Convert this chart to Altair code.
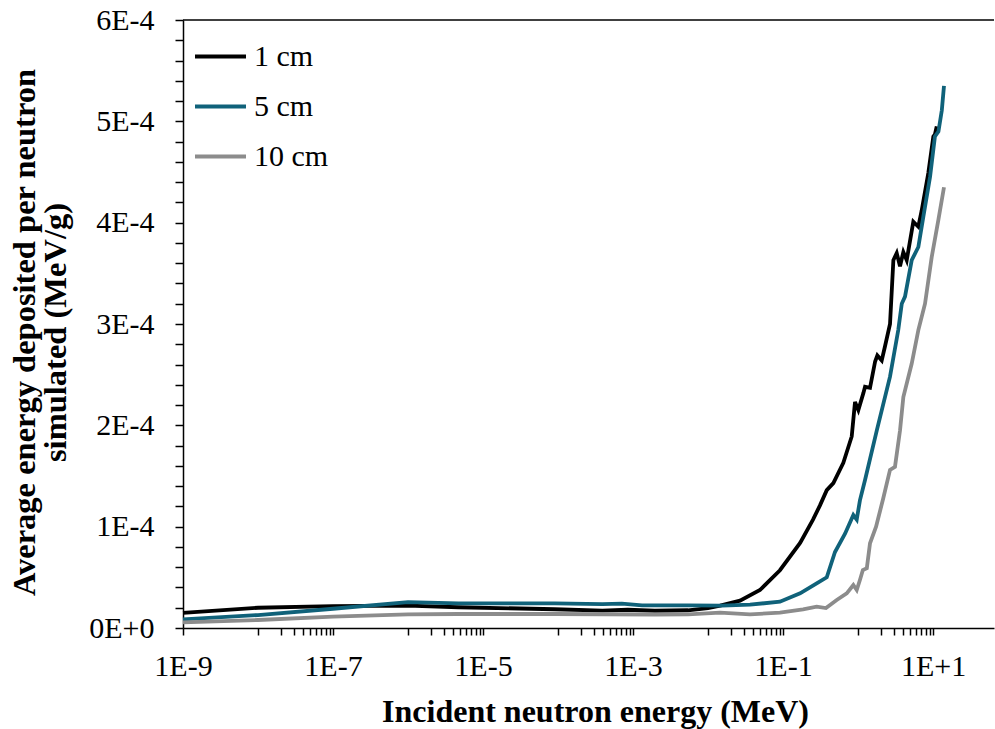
import altair as alt
import pandas as pd

# ---- data ----
series_names = ["1 cm", "5 cm", "10 cm"]
series_colors = ["#000000", "#10627a", "#8c8c8c"]

energy_1cm = [1e-9, 1e-8, 1e-7, 1e-6, 4.7e-6, 9e-5, 3.9e-4, 8.5e-4, 1.95e-3, 5.4e-3,
              1e-2, 1.45e-2, 0.0267, 0.0493, 0.091, 0.169, 0.251, 0.311, 0.383, 0.469,
              0.637, 0.824, 0.912, 1.01, 1.18, 1.24, 1.445, 1.69, 1.81, 2.07,
              2.29, 2.67, 2.96, 3.28, 3.63, 4.02, 4.46, 5.46, 6.37, 7.06,
              8.65, 10.1, 10.6, 11.2]
dose_1cm = [1.50e-5, 2.00e-5, 2.15e-5, 2.20e-5, 2.05e-5, 1.85e-5, 1.72e-5, 1.80e-5, 1.70e-5, 1.75e-5,
            1.95e-5, 2.20e-5, 2.70e-5, 3.75e-5, 5.70e-5, 8.40e-5, 1.07e-4, 1.21e-4, 1.36e-4, 1.43e-4,
            1.63e-4, 1.89e-4, 2.23e-4, 2.15e-4, 2.32e-4, 2.38e-4, 2.37e-4, 2.63e-4, 2.69e-4, 2.64e-4,
            2.78e-4, 3.00e-4, 3.63e-4, 3.70e-4, 3.57e-4, 3.71e-4, 3.63e-4, 4.01e-4, 3.96e-4, 4.12e-4,
            4.49e-4, 4.85e-4, 4.87e-4, 4.95e-4]

energy_5cm = [1e-9, 1e-8, 1e-7, 1e-6, 4.7e-6, 9e-5, 3.9e-4, 7.1e-4, 1.32e-3, 5.4e-3,
              0.0154, 0.0363, 0.091, 0.169, 0.281, 0.383, 0.493, 0.671, 0.866, 0.961,
              1.06, 1.24, 1.78, 2.67, 3.44, 3.83, 4.23, 5.2, 6.37, 7.43,
              9.12, 10.6, 11.8, 13.1, 14.0]
dose_5cm = [8.6e-6, 1.28e-5, 1.90e-5, 2.55e-5, 2.44e-5, 2.44e-5, 2.35e-5, 2.40e-5, 2.24e-5, 2.24e-5,
            2.20e-5, 2.30e-5, 2.60e-5, 3.42e-5, 4.40e-5, 5.00e-5, 7.50e-5, 9.30e-5, 1.115e-4, 1.07e-4,
            1.26e-4, 1.46e-4, 1.95e-4, 2.48e-4, 2.94e-4, 3.20e-4, 3.27e-4, 3.63e-4, 3.76e-4, 4.06e-4,
            4.45e-4, 4.85e-4, 4.90e-4, 5.11e-4, 5.35e-4]

energy_10cm = [1e-9, 1e-8, 1e-7, 1e-6, 4.7e-6, 9e-5, 1.95e-3, 5.4e-3, 0.0145, 0.0363,
               0.091, 0.185, 0.281, 0.374, 0.52, 0.707, 0.866, 0.961, 1.06, 1.16,
               1.31, 1.445, 1.74, 2.17, 2.67, 3.11, 3.63, 4.02, 5.2, 6.37,
               7.82, 9.6, 11.8, 14.0]
dose_10cm = [5.6e-6, 7.9e-6, 1.12e-5, 1.35e-5, 1.38e-5, 1.38e-5, 1.33e-5, 1.35e-5, 1.51e-5, 1.35e-5,
             1.51e-5, 1.84e-5, 2.10e-5, 1.97e-5, 2.76e-5, 3.42e-5, 4.24e-5, 3.75e-5, 4.74e-5, 5.72e-5,
             5.90e-5, 8.36e-5, 1.00e-4, 1.28e-4, 1.56e-4, 1.59e-4, 1.95e-4, 2.28e-4, 2.61e-4, 2.94e-4,
             3.20e-4, 3.66e-4, 4.03e-4, 4.35e-4]

# axis ticks and labels
x_major_ticks = [1e-9, 1e-7, 1e-5, 1e-3, 1e-1, 1e1]
x_tick_labels = ["1E-9", "1E-7", "1E-5", "1E-3", "1E-1", "1E+1"]
x_minor_ticks = [float(f"{m}e{e}") for e in (-8, -6, -4, -2, 0) for m in range(1, 10)]
y_major_ticks = [0, 1e-4, 2e-4, 3e-4, 4e-4, 5e-4, 6e-4]
y_tick_labels = ["0E+0", "1E-4", "2E-4", "3E-4", "4E-4", "5E-4", "6E-4"]
y_minor_ticks = [round(i * 2e-5, 8) for i in range(0, 31)]

x_domain = [1e-9, 65]
y_domain = [0, 6e-4]

# ---- build table ----
rows = []
for name, es, vs in zip(series_names,
                        [energy_1cm, energy_5cm, energy_10cm],
                        [dose_1cm, dose_5cm, dose_10cm]):
    for i, (e, v) in enumerate(zip(es, vs)):
        rows.append({"series": name, "energy": e, "dose": v, "order": i})
df = pd.DataFrame(rows)

x_label_expr = "".join(
    f"abs(datum.value - {v}) < {v} * 1e-6 ? '{l}' : " for v, l in zip(x_major_ticks, x_tick_labels)
) + "''"
y_label_expr = "".join(
    f"abs(datum.value - {v}) < 1e-9 ? '{l}' : " for v, l in zip(y_major_ticks, y_tick_labels)
) + "''"

FONT = "Liberation Serif"
W, H = 811, 608

x_enc = alt.X(
    "energy:Q",
    scale=alt.Scale(type="log", domain=x_domain, nice=False),
    axis=alt.Axis(
        values=sorted(x_major_ticks + x_minor_ticks),
        labelExpr=x_label_expr,
        grid=False,
        tickSize=7,
        tickWidth=1.5,
        tickColor="black",
        domainColor="black",
        domainWidth=1.5,
        labelFont=FONT,
        labelFontSize=30,
        labelColor="black",
        labelPadding=16,
        labelFlush=False,
        labelOverlap=False,
        labelBound=False,
        title="Incident neutron energy (MeV)",
        titleFont=FONT,
        titleFontSize=32,
        titleFontWeight="bold",
        titleColor="black",
        titleX=412,
        titleY=93,
        titleAlign="center",
        titleBaseline="alphabetic",
    ),
)

y_enc = alt.Y(
    "dose:Q",
    scale=alt.Scale(domain=y_domain, nice=False, zero=True),
    axis=alt.Axis(
        values=y_minor_ticks,
        labelExpr=y_label_expr,
        grid=False,
        tickSize=8,
        tickWidth=1.5,
        tickColor="black",
        domainColor="black",
        domainWidth=1.5,
        labelFont=FONT,
        labelFontSize=30,
        labelColor="black",
        labelPadding=21,
        labelOverlap=False,
        labelFlush=False,
        labelBound=False,
        title=["Average energy deposited per neutron", "simulated (MeV/g)"],
        titleFont=FONT,
        titleFontSize=32.5,
        titleFontWeight="bold",
        titleColor="black",
        titleLineHeight=31,
        titleAngle=270,
        titleX=-159,
        titleY=312,
        titleAlign="center",
        titleBaseline="middle",
    ),
)

lines = alt.Chart(df).mark_line(strokeWidth=3.8, interpolate="linear").encode(
    x=x_enc,
    y=y_enc,
    order="order:Q",
    color=alt.Color(
        "series:N",
        scale=alt.Scale(domain=series_names, range=series_colors),
        sort=series_names,
        legend=alt.Legend(
            orient="none",
            legendX=10,
            legendY=9,
            title=None,
            symbolType="stroke",
            symbolSize=2600,
            symbolStrokeWidth=4,
            labelFont=FONT,
            labelFontSize=30,
            labelColor="black",
            labelOffset=6,
            labelLimit=0,
            rowPadding=7,
            padding=0,
        ),
    ),
)

# top border of the plot area
top_line = alt.Chart(pd.DataFrame({"edge": ["top"]})).mark_rule(
    color="black", strokeWidth=1.5
).encode(
    y=alt.value(0),
    x=alt.value(0),
    x2=alt.value(W),
)

chart = alt.layer(lines, top_line).properties(
    width=W,
    height=H,
    autosize=alt.AutoSizeParams(type="none"),
    padding={"left": 183, "top": 20, "right": 1, "bottom": 101},
).configure(
    background="white", font=FONT
).configure_view(stroke=None).configure_legend(
    labelFont=FONT, labelFontSize=30
).configure_axis(labelOverlap=False)

chart.save("out.html", embed_options={"renderer": "svg", "actions": False})
